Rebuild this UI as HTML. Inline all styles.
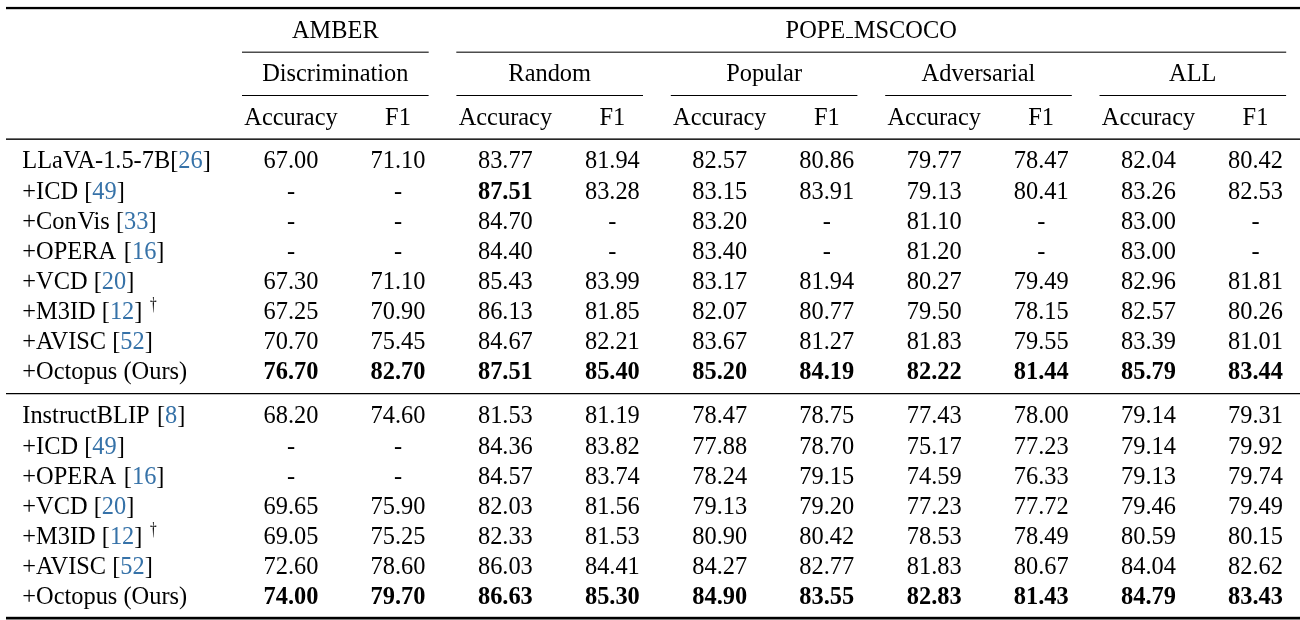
<!DOCTYPE html>
<html><head><meta charset="utf-8"><title>table</title>
<style>
html,body{margin:0;padding:0;background:#fff;}
body{width:1300px;height:620px;position:relative;overflow:hidden;font-family:"Liberation Serif",serif;font-size:24.4px;color:#000;}
.t{position:absolute;height:30px;line-height:30px;text-align:center;white-space:nowrap;}
.t.l{text-align:left;}
.b{font-weight:bold;}
.c{color:#3672a8;}
.r{position:absolute;}
.dg{font-size:17.8px;position:relative;top:-9.3px;line-height:0;margin-left:0.5px;display:inline-block;transform:scaleX(0.75);}
.k{display:inline-block;width:0.7px;}
.k2{display:inline-block;width:1.7px;}
.k3{display:inline-block;width:1.2px;}
.us{display:inline-block;width:7.5px;height:1.1px;background:#000;vertical-align:baseline;position:relative;top:0.4px;margin:0 0.5px;}
#w{position:absolute;left:0;top:0;width:1300px;height:620px;will-change:transform;}
</style></head><body><div id="w">
<svg width="1300" height="620" style="position:absolute;left:0;top:0"><rect x="6.00" y="6.90" width="1294.00" height="2.30" fill="#000"/><rect x="6.00" y="138.45" width="1294.00" height="1.40" fill="#000"/><rect x="6.00" y="393.00" width="1294.00" height="1.25" fill="#000"/><rect x="6.00" y="616.80" width="1294.00" height="2.20" fill="#000"/><rect x="6.00" y="619.00" width="1294.00" height="1.00" fill="#808080"/><rect x="242.00" y="51.65" width="186.70" height="1.05" fill="#000"/><rect x="456.30" y="51.65" width="829.90" height="1.05" fill="#000"/><rect x="242.00" y="95.00" width="186.60" height="1.00" fill="#000"/><rect x="456.40" y="95.00" width="186.60" height="1.00" fill="#000"/><rect x="670.80" y="95.00" width="186.60" height="1.00" fill="#000"/><rect x="885.20" y="95.00" width="186.60" height="1.00" fill="#000"/><rect x="1099.50" y="95.00" width="186.60" height="1.00" fill="#000"/></svg>
<div class="t" style="left:235.30px;top:15.00px;width:200px">AMBER</div>
<div class="t" style="left:721.20px;top:15.00px;width:300px">POPE<span class="us"></span>MSCOCO</div>
<div class="t" style="left:225.30px;top:58.00px;width:220px">Discrimination</div>
<div class="t" style="left:191.00px;top:102.00px;width:200px">Accuracy</div>
<div class="t" style="left:298.00px;top:102.00px;width:200px">F1</div>
<div class="t" style="left:439.70px;top:58.00px;width:220px">Random</div>
<div class="t" style="left:405.40px;top:102.00px;width:200px">Accuracy</div>
<div class="t" style="left:512.40px;top:102.00px;width:200px">F1</div>
<div class="t" style="left:654.10px;top:58.00px;width:220px">Popular</div>
<div class="t" style="left:619.80px;top:102.00px;width:200px">Accuracy</div>
<div class="t" style="left:726.80px;top:102.00px;width:200px">F1</div>
<div class="t" style="left:868.50px;top:58.00px;width:220px">Adversarial</div>
<div class="t" style="left:834.20px;top:102.00px;width:200px">Accuracy</div>
<div class="t" style="left:941.20px;top:102.00px;width:200px">F1</div>
<div class="t" style="left:1082.80px;top:58.00px;width:220px">ALL</div>
<div class="t" style="left:1048.50px;top:102.00px;width:200px">Accuracy</div>
<div class="t" style="left:1155.50px;top:102.00px;width:200px">F1</div>
<div class="t l" style="left:22.30px;top:145.00px">LLaVA-1.5-7B[<span class="c">26</span>]</div>
<div class="t" style="left:231.00px;top:145.00px;width:120px">67.00</div>
<div class="t" style="left:338.00px;top:145.00px;width:120px">71.10</div>
<div class="t" style="left:445.40px;top:145.00px;width:120px">83.77</div>
<div class="t" style="left:552.40px;top:145.00px;width:120px">81.94</div>
<div class="t" style="left:659.80px;top:145.00px;width:120px">82.57</div>
<div class="t" style="left:766.80px;top:145.00px;width:120px">80.86</div>
<div class="t" style="left:874.20px;top:145.00px;width:120px">79.77</div>
<div class="t" style="left:981.20px;top:145.00px;width:120px">78.47</div>
<div class="t" style="left:1088.50px;top:145.00px;width:120px">82.04</div>
<div class="t" style="left:1195.50px;top:145.00px;width:120px">80.42</div>
<div class="t l" style="left:22.30px;top:176.00px">+ICD [<span class="c">49</span>]</div>
<div class="t" style="left:231.00px;top:176.00px;width:120px">-</div>
<div class="t" style="left:338.00px;top:176.00px;width:120px">-</div>
<div class="t b" style="left:445.40px;top:176.00px;width:120px">87.51</div>
<div class="t" style="left:552.40px;top:176.00px;width:120px">83.28</div>
<div class="t" style="left:659.80px;top:176.00px;width:120px">83.15</div>
<div class="t" style="left:766.80px;top:176.00px;width:120px">83.91</div>
<div class="t" style="left:874.20px;top:176.00px;width:120px">79.13</div>
<div class="t" style="left:981.20px;top:176.00px;width:120px">80.41</div>
<div class="t" style="left:1088.50px;top:176.00px;width:120px">83.26</div>
<div class="t" style="left:1195.50px;top:176.00px;width:120px">82.53</div>
<div class="t l" style="left:22.30px;top:206.00px">+Con<span class='k'></span>Vis [<span class="c">33</span>]</div>
<div class="t" style="left:231.00px;top:206.00px;width:120px">-</div>
<div class="t" style="left:338.00px;top:206.00px;width:120px">-</div>
<div class="t" style="left:445.40px;top:206.00px;width:120px">84.70</div>
<div class="t" style="left:552.40px;top:206.00px;width:120px">-</div>
<div class="t" style="left:659.80px;top:206.00px;width:120px">83.20</div>
<div class="t" style="left:766.80px;top:206.00px;width:120px">-</div>
<div class="t" style="left:874.20px;top:206.00px;width:120px">81.10</div>
<div class="t" style="left:981.20px;top:206.00px;width:120px">-</div>
<div class="t" style="left:1088.50px;top:206.00px;width:120px">83.00</div>
<div class="t" style="left:1195.50px;top:206.00px;width:120px">-</div>
<div class="t l" style="left:22.30px;top:236.00px">+OPERA<span class='k2'></span> [<span class="c">16</span>]</div>
<div class="t" style="left:231.00px;top:236.00px;width:120px">-</div>
<div class="t" style="left:338.00px;top:236.00px;width:120px">-</div>
<div class="t" style="left:445.40px;top:236.00px;width:120px">84.40</div>
<div class="t" style="left:552.40px;top:236.00px;width:120px">-</div>
<div class="t" style="left:659.80px;top:236.00px;width:120px">83.40</div>
<div class="t" style="left:766.80px;top:236.00px;width:120px">-</div>
<div class="t" style="left:874.20px;top:236.00px;width:120px">81.20</div>
<div class="t" style="left:981.20px;top:236.00px;width:120px">-</div>
<div class="t" style="left:1088.50px;top:236.00px;width:120px">83.00</div>
<div class="t" style="left:1195.50px;top:236.00px;width:120px">-</div>
<div class="t l" style="left:22.30px;top:266.00px">+VCD [<span class="c">20</span>]</div>
<div class="t" style="left:231.00px;top:266.00px;width:120px">67.30</div>
<div class="t" style="left:338.00px;top:266.00px;width:120px">71.10</div>
<div class="t" style="left:445.40px;top:266.00px;width:120px">85.43</div>
<div class="t" style="left:552.40px;top:266.00px;width:120px">83.99</div>
<div class="t" style="left:659.80px;top:266.00px;width:120px">83.17</div>
<div class="t" style="left:766.80px;top:266.00px;width:120px">81.94</div>
<div class="t" style="left:874.20px;top:266.00px;width:120px">80.27</div>
<div class="t" style="left:981.20px;top:266.00px;width:120px">79.49</div>
<div class="t" style="left:1088.50px;top:266.00px;width:120px">82.96</div>
<div class="t" style="left:1195.50px;top:266.00px;width:120px">81.81</div>
<div class="t l" style="left:22.30px;top:296.00px">+M3ID [<span class="c">12</span>] <span class='dg'>†</span></div>
<div class="t" style="left:231.00px;top:296.00px;width:120px">67.25</div>
<div class="t" style="left:338.00px;top:296.00px;width:120px">70.90</div>
<div class="t" style="left:445.40px;top:296.00px;width:120px">86.13</div>
<div class="t" style="left:552.40px;top:296.00px;width:120px">81.85</div>
<div class="t" style="left:659.80px;top:296.00px;width:120px">82.07</div>
<div class="t" style="left:766.80px;top:296.00px;width:120px">80.77</div>
<div class="t" style="left:874.20px;top:296.00px;width:120px">79.50</div>
<div class="t" style="left:981.20px;top:296.00px;width:120px">78.15</div>
<div class="t" style="left:1088.50px;top:296.00px;width:120px">82.57</div>
<div class="t" style="left:1195.50px;top:296.00px;width:120px">80.26</div>
<div class="t l" style="left:22.30px;top:326.00px">+AVISC [<span class="c">52</span>]</div>
<div class="t" style="left:231.00px;top:326.00px;width:120px">70.70</div>
<div class="t" style="left:338.00px;top:326.00px;width:120px">75.45</div>
<div class="t" style="left:445.40px;top:326.00px;width:120px">84.67</div>
<div class="t" style="left:552.40px;top:326.00px;width:120px">82.21</div>
<div class="t" style="left:659.80px;top:326.00px;width:120px">83.67</div>
<div class="t" style="left:766.80px;top:326.00px;width:120px">81.27</div>
<div class="t" style="left:874.20px;top:326.00px;width:120px">81.83</div>
<div class="t" style="left:981.20px;top:326.00px;width:120px">79.55</div>
<div class="t" style="left:1088.50px;top:326.00px;width:120px">83.39</div>
<div class="t" style="left:1195.50px;top:326.00px;width:120px">81.01</div>
<div class="t l" style="left:22.30px;top:356.00px">+Octopus (Ours)</div>
<div class="t b" style="left:231.00px;top:356.00px;width:120px">76.70</div>
<div class="t b" style="left:338.00px;top:356.00px;width:120px">82.70</div>
<div class="t b" style="left:445.40px;top:356.00px;width:120px">87.51</div>
<div class="t b" style="left:552.40px;top:356.00px;width:120px">85.40</div>
<div class="t b" style="left:659.80px;top:356.00px;width:120px">85.20</div>
<div class="t b" style="left:766.80px;top:356.00px;width:120px">84.19</div>
<div class="t b" style="left:874.20px;top:356.00px;width:120px">82.22</div>
<div class="t b" style="left:981.20px;top:356.00px;width:120px">81.44</div>
<div class="t b" style="left:1088.50px;top:356.00px;width:120px">85.79</div>
<div class="t b" style="left:1195.50px;top:356.00px;width:120px">83.44</div>
<div class="t l" style="left:22.30px;top:400.00px">InstructBLIP<span class='k3'></span> [<span class="c">8</span>]</div>
<div class="t" style="left:231.00px;top:400.00px;width:120px">68.20</div>
<div class="t" style="left:338.00px;top:400.00px;width:120px">74.60</div>
<div class="t" style="left:445.40px;top:400.00px;width:120px">81.53</div>
<div class="t" style="left:552.40px;top:400.00px;width:120px">81.19</div>
<div class="t" style="left:659.80px;top:400.00px;width:120px">78.47</div>
<div class="t" style="left:766.80px;top:400.00px;width:120px">78.75</div>
<div class="t" style="left:874.20px;top:400.00px;width:120px">77.43</div>
<div class="t" style="left:981.20px;top:400.00px;width:120px">78.00</div>
<div class="t" style="left:1088.50px;top:400.00px;width:120px">79.14</div>
<div class="t" style="left:1195.50px;top:400.00px;width:120px">79.31</div>
<div class="t l" style="left:22.30px;top:431.00px">+ICD [<span class="c">49</span>]</div>
<div class="t" style="left:231.00px;top:431.00px;width:120px">-</div>
<div class="t" style="left:338.00px;top:431.00px;width:120px">-</div>
<div class="t" style="left:445.40px;top:431.00px;width:120px">84.36</div>
<div class="t" style="left:552.40px;top:431.00px;width:120px">83.82</div>
<div class="t" style="left:659.80px;top:431.00px;width:120px">77.88</div>
<div class="t" style="left:766.80px;top:431.00px;width:120px">78.70</div>
<div class="t" style="left:874.20px;top:431.00px;width:120px">75.17</div>
<div class="t" style="left:981.20px;top:431.00px;width:120px">77.23</div>
<div class="t" style="left:1088.50px;top:431.00px;width:120px">79.14</div>
<div class="t" style="left:1195.50px;top:431.00px;width:120px">79.92</div>
<div class="t l" style="left:22.30px;top:461.00px">+OPERA<span class='k2'></span> [<span class="c">16</span>]</div>
<div class="t" style="left:231.00px;top:461.00px;width:120px">-</div>
<div class="t" style="left:338.00px;top:461.00px;width:120px">-</div>
<div class="t" style="left:445.40px;top:461.00px;width:120px">84.57</div>
<div class="t" style="left:552.40px;top:461.00px;width:120px">83.74</div>
<div class="t" style="left:659.80px;top:461.00px;width:120px">78.24</div>
<div class="t" style="left:766.80px;top:461.00px;width:120px">79.15</div>
<div class="t" style="left:874.20px;top:461.00px;width:120px">74.59</div>
<div class="t" style="left:981.20px;top:461.00px;width:120px">76.33</div>
<div class="t" style="left:1088.50px;top:461.00px;width:120px">79.13</div>
<div class="t" style="left:1195.50px;top:461.00px;width:120px">79.74</div>
<div class="t l" style="left:22.30px;top:491.00px">+VCD [<span class="c">20</span>]</div>
<div class="t" style="left:231.00px;top:491.00px;width:120px">69.65</div>
<div class="t" style="left:338.00px;top:491.00px;width:120px">75.90</div>
<div class="t" style="left:445.40px;top:491.00px;width:120px">82.03</div>
<div class="t" style="left:552.40px;top:491.00px;width:120px">81.56</div>
<div class="t" style="left:659.80px;top:491.00px;width:120px">79.13</div>
<div class="t" style="left:766.80px;top:491.00px;width:120px">79.20</div>
<div class="t" style="left:874.20px;top:491.00px;width:120px">77.23</div>
<div class="t" style="left:981.20px;top:491.00px;width:120px">77.72</div>
<div class="t" style="left:1088.50px;top:491.00px;width:120px">79.46</div>
<div class="t" style="left:1195.50px;top:491.00px;width:120px">79.49</div>
<div class="t l" style="left:22.30px;top:521.00px">+M3ID [<span class="c">12</span>] <span class='dg'>†</span></div>
<div class="t" style="left:231.00px;top:521.00px;width:120px">69.05</div>
<div class="t" style="left:338.00px;top:521.00px;width:120px">75.25</div>
<div class="t" style="left:445.40px;top:521.00px;width:120px">82.33</div>
<div class="t" style="left:552.40px;top:521.00px;width:120px">81.53</div>
<div class="t" style="left:659.80px;top:521.00px;width:120px">80.90</div>
<div class="t" style="left:766.80px;top:521.00px;width:120px">80.42</div>
<div class="t" style="left:874.20px;top:521.00px;width:120px">78.53</div>
<div class="t" style="left:981.20px;top:521.00px;width:120px">78.49</div>
<div class="t" style="left:1088.50px;top:521.00px;width:120px">80.59</div>
<div class="t" style="left:1195.50px;top:521.00px;width:120px">80.15</div>
<div class="t l" style="left:22.30px;top:551.00px">+AVISC [<span class="c">52</span>]</div>
<div class="t" style="left:231.00px;top:551.00px;width:120px">72.60</div>
<div class="t" style="left:338.00px;top:551.00px;width:120px">78.60</div>
<div class="t" style="left:445.40px;top:551.00px;width:120px">86.03</div>
<div class="t" style="left:552.40px;top:551.00px;width:120px">84.41</div>
<div class="t" style="left:659.80px;top:551.00px;width:120px">84.27</div>
<div class="t" style="left:766.80px;top:551.00px;width:120px">82.77</div>
<div class="t" style="left:874.20px;top:551.00px;width:120px">81.83</div>
<div class="t" style="left:981.20px;top:551.00px;width:120px">80.67</div>
<div class="t" style="left:1088.50px;top:551.00px;width:120px">84.04</div>
<div class="t" style="left:1195.50px;top:551.00px;width:120px">82.62</div>
<div class="t l" style="left:22.30px;top:581.00px">+Octopus (Ours)</div>
<div class="t b" style="left:231.00px;top:581.00px;width:120px">74.00</div>
<div class="t b" style="left:338.00px;top:581.00px;width:120px">79.70</div>
<div class="t b" style="left:445.40px;top:581.00px;width:120px">86.63</div>
<div class="t b" style="left:552.40px;top:581.00px;width:120px">85.30</div>
<div class="t b" style="left:659.80px;top:581.00px;width:120px">84.90</div>
<div class="t b" style="left:766.80px;top:581.00px;width:120px">83.55</div>
<div class="t b" style="left:874.20px;top:581.00px;width:120px">82.83</div>
<div class="t b" style="left:981.20px;top:581.00px;width:120px">81.43</div>
<div class="t b" style="left:1088.50px;top:581.00px;width:120px">84.79</div>
<div class="t b" style="left:1195.50px;top:581.00px;width:120px">83.43</div>
</div></body></html>
